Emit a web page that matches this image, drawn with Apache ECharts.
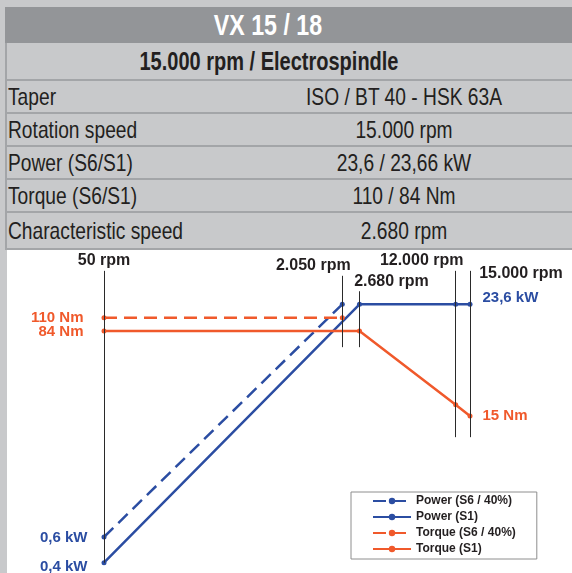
<!DOCTYPE html>
<html>
<head>
<meta charset="utf-8">
<script src="https://cdn.jsdelivr.net/npm/echarts@6/dist/echarts.min.js"></script>
<style>
  html, body { margin: 0; padding: 0; width: 572px; height: 573px; overflow: hidden; background: #c8c9cb; }
  .box { position: absolute; box-sizing: border-box; }
  .head { left: 5px; top: 7px; width: 567px; height: 36px; background: #939598; }
  .row { left: 5px; width: 567px; border-left: 2px solid #a3a5a8; border-bottom: 2px solid #a3a5a8; background: #c8c9cb; }
  .txt { position: absolute; white-space: nowrap; color: #231f20;
         font-family: "Liberation Sans", Arial, sans-serif; transform: scaleX(0.8); }
  .title { color: #fff; font-weight: bold; font-size: 29px; }
  .sub { font-weight: bold; font-size: 25px; }
  .lbl, .val { font-size: 24px; }
  .lbl { transform-origin: left center; }
  #white { left: 7px; top: 250px; width: 565px; height: 323px; background: #fff; }
  #chart { position: absolute; left: 0; top: 0; width: 572px; height: 573px; }
</style>
</head>
<body>
<div id="table"></div>
<div id="white" class="box"></div>
<div id="chart"></div>
<script>
/*---------------------------------------- 数据 ----------------------------------------*/
var modelName = 'VX 15 / 18';
var spindleName = '15.000 rpm / Electrospindle';
var specLabels = ['Taper', 'Rotation speed', 'Power (S6/S1)', 'Torque (S6/S1)', 'Characteristic speed'];
var specValues = ['ISO / BT 40 - HSK 63A', '15.000 rpm', '23,6 / 23,66 kW', '110 / 84 Nm', '2.680 rpm'];

var rpmMarks = [50, 2050, 2680, 12000, 15000];
var rpmLabels = ['50 rpm', '2.050 rpm', '2.680 rpm', '12.000 rpm', '15.000 rpm'];
// extent of each rpm guide line, in kW
var guideTop = [40, 37, 29, 40, 40];
var guideBottom = [0.4, 12, 12, 2.9, 2.9];

var seriesNames = ['Power (S6 / 40%)', 'Power (S1)', 'Torque (S6 / 40%)', 'Torque (S1)'];
var powerS6 = [[50, 0.6], [2050, 23.6]];
var powerS1 = [[50, 0.4], [2680, 23.6], [12000, 23.6], [15000, 23.6]];
var torqueS6 = [[50, 110], [2050, 110]];
var torqueS1 = [[50, 84], [2680, 84], [12000, 18.8], [15000, 15]];
var powerS6Labels = ['0,6 kW', ''];
var powerS1Labels = ['0,4 kW', '', '', '23,6 kW'];
var torqueS6Labels = ['110 Nm', ''];
var torqueS1Labels = ['84 Nm', '', '', '15 Nm'];

/*---------------------------------------- 表格 ----------------------------------------*/
var rowTops = [81, 114, 147, 180, 213];
var rowHeights = [33, 33, 33, 33, 37];

function addBox(cls, css) {
    var d = document.createElement('div');
    d.className = 'box ' + cls;
    d.style.cssText = css;
    document.getElementById('table').appendChild(d);
    return d;
}
function addText(parent, cls, text, css) {
    var s = document.createElement('div');
    s.className = 'txt ' + cls;
    s.textContent = text;
    s.style.cssText = css;
    parent.appendChild(s);
}

var head = addBox('head', '');
addText(head, 'title', modelName, 'left:0;width:526px;text-align:center;top:0;line-height:36px;');
var sub = addBox('row', 'top:43px;height:38px;');
addText(sub, 'sub', spindleName, 'left:0;width:524px;text-align:center;top:0;line-height:36px;');
for (var i = 0; i < specLabels.length; i++) {
    var r = addBox('row', 'top:' + rowTops[i] + 'px;height:' + rowHeights[i] + 'px;');
    var lh = rowHeights[i] - 2;
    addText(r, 'lbl', specLabels[i], 'left:1px;top:0;line-height:' + lh + 'px;');
    addText(r, 'val', specValues[i], 'left:247px;width:300px;text-align:center;top:0;line-height:' + lh + 'px;');
}

/*---------------------------------------- 图表 ----------------------------------------*/
var blue = '#2b4da2';
var red = '#f0592b';

function withLabels(points, labels, pos, color, dist, offset) {
    return points.map(function (p, k) {
        var item = {value: p};
        if (labels[k]) {
            item.label = {
                show: true, formatter: labels[k], position: pos[k], distance: dist[k],
                offset: offset[k], color: color, fontSize: 15, fontWeight: 'bold',
                fontFamily: 'Liberation Sans'
            };
        }
        return item;
    });
}

var guideData = rpmMarks.map(function (rpm, k) {
    var offsets = [[0, 2], [-29, 2], [32, 2], [-34, 2], [51, 15]];
    return [
        {coord: [rpm, guideTop[k]], label: {formatter: rpmLabels[k], offset: offsets[k]}},
        {coord: [rpm, guideBottom[k]]}
    ];
});

function lineSeries(name, data, color, dashed, yIndex) {
    return {
        name: name,
        type: 'line',
        xAxisIndex: 0,
        yAxisIndex: yIndex,
        data: data,
        clip: false,
        symbol: 'circle',
        symbolSize: 5,
        showAllSymbol: true,
        lineStyle: {color: color, width: 2.5, type: dashed ? [13, 7] : 'solid'},
        itemStyle: {color: color},
        emphasis: {disabled: true}
    };
}

var series = [
    lineSeries(seriesNames[0], withLabels(powerS6, powerS6Labels, ['left'], blue, [14], [[0, 1]]), blue, true, 0),
    lineSeries(seriesNames[1], withLabels(powerS1, powerS1Labels, ['left', '', '', 'right'], blue, [14, 0, 0, 10], [[0, 4], 0, 0, [0, -6]]), blue, false, 0),
    lineSeries(seriesNames[2], withLabels(torqueS6, torqueS6Labels, ['left'], red, [18], [[0, 0]]), red, true, 1),
    lineSeries(seriesNames[3], withLabels(torqueS1, torqueS1Labels, ['left', '', '', 'right'], red, [18, 0, 0, 10], [[0, 1], 0, 0, [0, 0]]), red, false, 1)
];
series[1].markLine = {
    silent: true,
    symbol: ['none', 'none'],
    lineStyle: {color: '#2a2a2a', width: 1, type: 'solid'},
    label: {show: true, position: 'start', distance: 4, color: '#231f20', fontSize: 16,
        fontWeight: 'bold', fontFamily: 'Liberation Sans'},
    data: guideData
};

var chart = echarts.init(document.getElementById('chart'));
chart.setOption({
    animation: false,
    grid: {left: 104, right: 102, top: 262, bottom: 0},
    xAxis: {type: 'log', logBase: 10, min: 50, max: 15000, show: false},
    yAxis: [
        {type: 'log', logBase: 10, min: 0.34, max: 46, show: false},
        {type: 'log', logBase: 10, min: 0.622, max: 340, show: false}
    ],
    legend: {
        orient: 'vertical',
        left: 351,
        top: 492,
        padding: [2, 21, 3, 21],
        itemWidth: 38,
        itemHeight: 8,
        itemGap: 2,
        borderColor: '#8e8e8e',
        borderWidth: 1,
        backgroundColor: '#fff',
        selectedMode: false,
        data: seriesNames,
        textStyle: {fontSize: 12, lineHeight: 14, fontWeight: 'bold', color: '#231f20', fontFamily: 'Liberation Sans'}
    },
    series: series
});
</script>
</body>
</html>
